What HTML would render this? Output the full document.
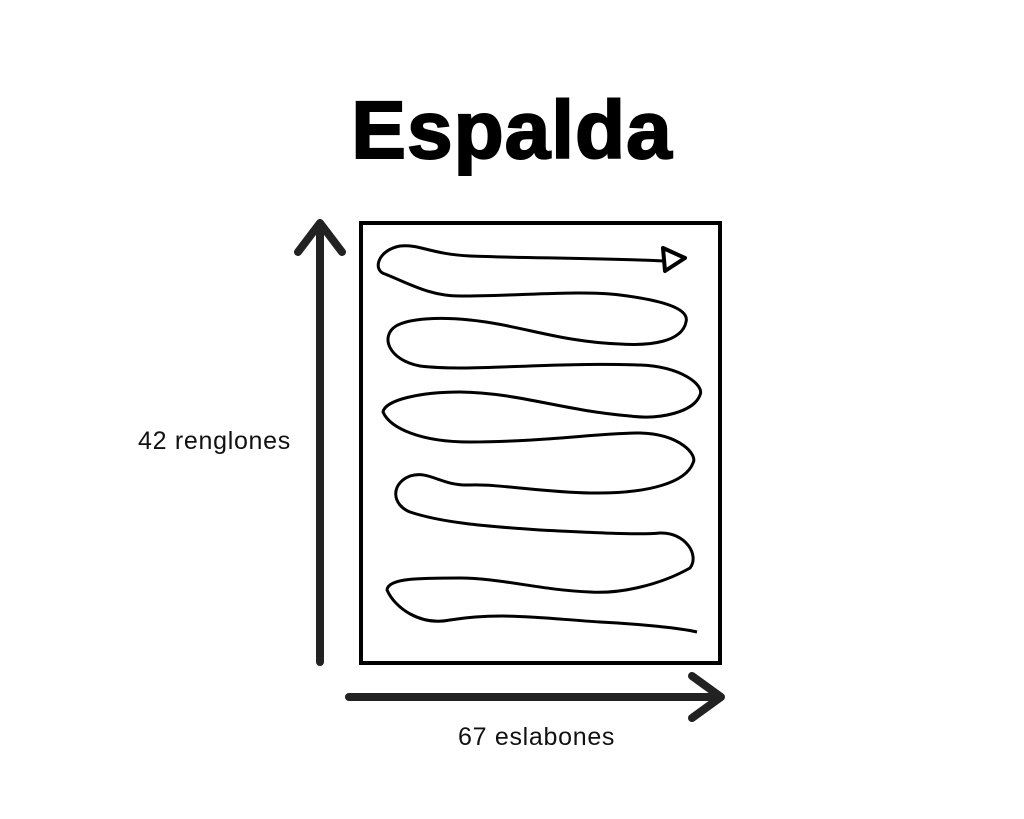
<!DOCTYPE html>
<html><head><meta charset="utf-8"><style>
html,body{margin:0;padding:0;background:#fff;}
body{width:1024px;height:819px;position:relative;overflow:hidden;font-family:"Liberation Sans",sans-serif;}
.t{position:absolute;white-space:nowrap;color:#111;}
</style></head><body>
<div class="t" style="left:0;width:1024px;text-align:center;top:84px;font-size:82px;font-weight:900;letter-spacing:1px;color:#000;-webkit-text-stroke:2px #000;">Espalda</div>
<div class="t" style="left:138px;top:427px;font-size:25px;letter-spacing:0.7px;">42 renglones</div>
<div class="t" style="left:458px;top:723px;font-size:25px;letter-spacing:0.7px;">67 eslabones</div>
<svg width="1024" height="819" style="position:absolute;left:0;top:0">
<rect x="361" y="223" width="359" height="440" fill="none" stroke="#000" stroke-width="4"/>
<g stroke="#222" stroke-width="8" stroke-linecap="round" stroke-linejoin="round" fill="none">
<line x1="320" y1="662" x2="320" y2="224"/>
<polyline points="298,252 320,223 342,252"/>
<line x1="349" y1="697" x2="720" y2="697"/>
<polyline points="692,676 721,697 692,718"/>
</g>
<path fill="none" stroke="#000" stroke-width="3" stroke-linejoin="round" d="M665,261 C600,258 520,258 470,256 C430,254 420,244 400,246 C378,250 372,270 385,274 C410,284 430,296 460,296 C520,296 580,290 620,295 C660,300 690,308 686,322 C682,342 650,346 620,344 C560,342 520,325 470,320 C440,317 410,318 396,326 C380,336 388,360 420,366 C470,372 540,362 640,365 C680,366 705,385 700,395 C694,412 660,420 630,416 C560,410 520,393 460,392 C420,392 385,400 383,412 C390,428 420,442 470,442 C540,442 600,433 640,433 C680,434 698,455 693,463 C686,482 650,494 590,493 C540,492 500,484 470,485 C440,486 430,470 410,476 C390,484 392,505 410,512 C440,522 480,526 540,530 C600,533 640,535 660,533 C685,532 700,555 690,568 C660,585 620,594 590,592 C540,590 500,578 460,578 C420,578 388,578 387,590 C395,608 420,626 450,620 C500,612 540,618 600,622 C640,624 680,628 697,632"/>
<path fill="none" stroke="#000" stroke-width="4" stroke-linejoin="round" d="M663,248 L685,258 L665,271 Z"/>
</svg>
</body></html>
